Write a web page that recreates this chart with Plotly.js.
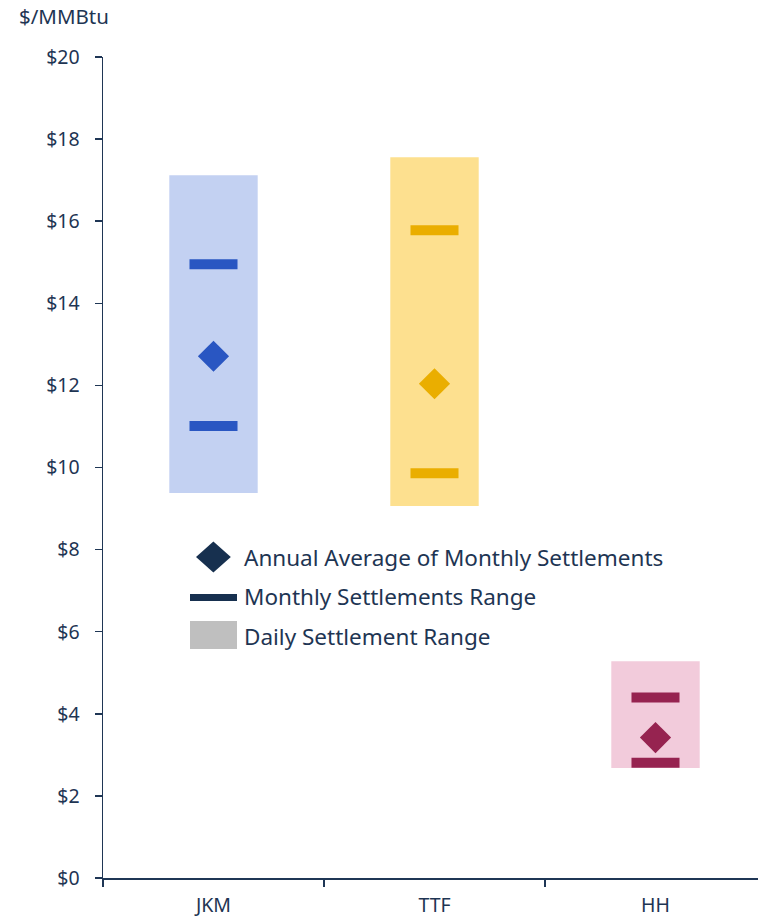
<!DOCTYPE html>
<html>
<head>
<meta charset="utf-8">
<script src="https://cdn.plot.ly/plotly-3.0.1.min.js"></script>
<style>html,body{margin:0;padding:0;background:#fff;}#chart{width:758px;height:919px;}</style>
</head>
<body>
<div id="chart"></div>
<script>
// ---- data ----
var hubs = ["JKM", "TTF", "HH"];
var dailyLow = [9.38, 9.06, 2.68];
var dailyHigh = [17.12, 17.56, 5.28];
var monthlyLow = [11.01, 9.86, 2.81];
var monthlyHigh = [14.95, 15.78, 4.40];
var annualAvg = [12.71, 12.04, 3.42];
var yTickVals = [0, 2, 4, 6, 8, 10, 12, 14, 16, 18, 20];
var yTickText = ["$0", "$2", "$4", "$6", "$8", "$10", "$12", "$14", "$16", "$18", "$20"];
var legendLabels = ["Annual Average of Monthly Settlements", "Monthly Settlements Range", "Daily Settlement Range"];

// ---- styles ----
var boxColors = ["#c3d1f2", "#fde08f", "#f2cbdb"];
var markColors = ["#2956c2", "#eaae00", "#962350"];
var navy = "#17304f";
var textColor = "#1e3553";
var FONT = "Noto Sans, Open Sans, sans-serif";

var W = 758, H = 919, L = 103, R = 0, T = 57, B = 41;
var pw = W - L - R, ph = H - T - B;
function px(x) { return (x - L) / pw; }
function py(y) { return (H - B - y) / ph; }

var traces = [
  {
    type: "bar", x: hubs,
    y: dailyHigh.map(function (h, i) { return h - dailyLow[i]; }),
    base: dailyLow, width: 0.4,
    marker: { color: boxColors, line: { width: 0 } },
    hoverinfo: "skip", showlegend: false
  },
  {
    type: "scatter", mode: "markers", x: hubs, y: monthlyHigh,
    marker: { symbol: "line-ew", size: 34.3, color: markColors, line: { color: markColors, width: 10 } },
    showlegend: false, hoverinfo: "skip"
  },
  {
    type: "scatter", mode: "markers", x: hubs, y: monthlyLow,
    marker: { symbol: "line-ew", size: 34.3, color: markColors, line: { color: markColors, width: 10 } },
    showlegend: false, hoverinfo: "skip"
  },
  {
    type: "scatter", mode: "markers", x: hubs, y: annualAvg,
    marker: { symbol: "diamond", size: 24, color: markColors, line: { width: 0 } },
    showlegend: false, hoverinfo: "skip"
  }
];

// legend glyphs (pixel positions converted to paper)
var shapes = [
  { type: "path", xref: "paper", yref: "paper",
    path: "M" + px(196) + "," + py(557) + " L" + px(213.4) + "," + py(541.5) + " L" + px(230.8) + "," + py(557) + " L" + px(213.4) + "," + py(572.5) + " Z",
    fillcolor: navy, line: { width: 0 } },
  { type: "rect", xref: "paper", yref: "paper", x0: px(190), x1: px(237), y0: py(594), y1: py(601),
    fillcolor: navy, line: { width: 0 } },
  { type: "rect", xref: "paper", yref: "paper", x0: px(190), x1: px(237), y0: py(621), y1: py(649),
    fillcolor: "#bfbfbf", line: { width: 0 } }
];

var annotations = [
  { xref: "paper", yref: "paper", x: px(17), y: py(16), xanchor: "left", yanchor: "middle",
    text: "$/MMBtu", showarrow: false, font: { family: FONT, size: 20.5, color: textColor } },
  { xref: "paper", yref: "paper", x: px(242), y: py(557), xanchor: "left", yanchor: "middle",
    text: legendLabels[0], showarrow: false, font: { family: FONT, size: 22.5, color: textColor } },
  { xref: "paper", yref: "paper", x: px(242), y: py(597), xanchor: "left", yanchor: "middle",
    text: legendLabels[1], showarrow: false, font: { family: FONT, size: 22.5, color: textColor } },
  { xref: "paper", yref: "paper", x: px(242), y: py(636), xanchor: "left", yanchor: "middle",
    text: legendLabels[2], showarrow: false, font: { family: FONT, size: 22.5, color: textColor } }
];

var layout = {
  width: W, height: H,
  margin: { l: L, r: R, t: T, b: B, pad: 0 },
  paper_bgcolor: "#ffffff", plot_bgcolor: "#ffffff",
  font: { family: FONT, size: 19.5, color: textColor },
  showlegend: false,
  xaxis: {
    type: "category", range: [-0.5, -0.5 + pw / 221],
    showline: true, linecolor: "#1f3655", linewidth: 1.5,
    ticks: "outside", tickson: "boundaries", ticklen: 7, tickwidth: 1.5, tickcolor: "#1f3655",
    showgrid: false, zeroline: false,
    tickfont: { family: FONT, size: 19.5, color: textColor },
    ticklabelstandoff: 9, fixedrange: true
  },
  yaxis: {
    range: [0, 20], tickvals: yTickVals, ticktext: yTickText,
    showline: true, linecolor: "#1f3655", linewidth: 1.5,
    ticks: "outside", ticklen: 7, tickwidth: 1.5, tickcolor: "#1f3655",
    showgrid: false, zeroline: false,
    tickfont: { family: FONT, size: 19.5, color: textColor },
    ticklabelstandoff: 11, fixedrange: true
  },
  shapes: shapes,
  annotations: annotations
};

Plotly.newPlot("chart", traces, layout, { displayModeBar: false, staticPlot: true });
</script>
</body>
</html>
